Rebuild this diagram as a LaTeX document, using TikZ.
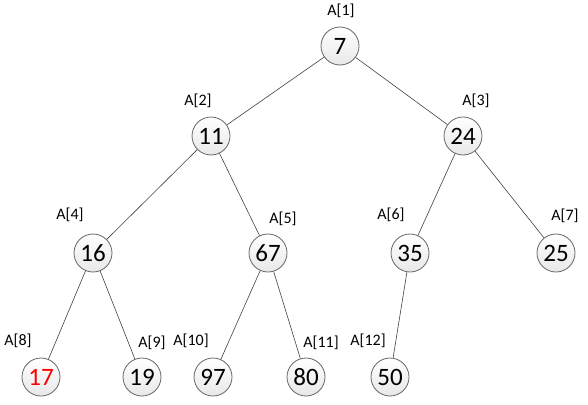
\documentclass[tikz,border=0pt]{standalone}
\usepackage{fontspec}
\setmainfont{Carlito}
\begin{document}
\begin{tikzpicture}[x=1pt,y=-1pt,
  heapnode/.style={circle,draw=black!60,line width=0.8pt,minimum size=38pt,inner sep=0pt,
    top color=white,bottom color=black!9,font=\fontsize{25}{25}\selectfont},
  idx/.style={font=\fontsize{16}{16}\selectfont,inner sep=0pt},
  edge/.style={draw=black!75,line width=0.6pt}]
\useasboundingbox (0,0) rectangle (588,404);
\node[heapnode] (n1) at (340,46) {7};
\node[heapnode] (n2) at (211,136) {11};
\node[heapnode] (n3) at (463,136) {24};
\node[heapnode] (n4) at (93,253) {16};
\node[heapnode] (n5) at (268,253) {67};
\node[heapnode] (n6) at (410,253) {35};
\node[heapnode] (n7) at (556,253) {25};
\node[heapnode,text=red] (n8) at (41,377) {17};
\node[heapnode] (n9) at (142,377) {19};
\node[heapnode] (n10) at (213,377) {97};
\node[heapnode] (n11) at (306,377) {80};
\node[heapnode] (n12) at (390,377) {50};
\node[idx] (l1) at (341,11) {A[1]};
\node[idx] (l2) at (198,101) {A[2]};
\node[idx] (l3) at (476,101) {A[3]};
\node[idx] (l4) at (70,215) {A[4]};
\node[idx] (l5) at (283,219) {A[5]};
\node[idx] (l6) at (391,215) {A[6]};
\node[idx] (l7) at (565,216) {A[7]};
\node[idx] (l8) at (18,341) {A[8]};
\node[idx] (l9) at (152,343) {A[9]};
\node[idx] (l10) at (191,341) {A[10]};
\node[idx] (l11) at (321,343) {A[11]};
\node[idx] (l12) at (368,341) {A[12]};
\draw[edge] (n1) -- (n2);
\draw[edge] (n1) -- (n3);
\draw[edge] (n2) -- (n4);
\draw[edge] (n2) -- (n5);
\draw[edge] (n3) -- (n6);
\draw[edge] (n3) -- (n7);
\draw[edge] (n4) -- (n8);
\draw[edge] (n4) -- (n9);
\draw[edge] (n5) -- (n10);
\draw[edge] (n5) -- (n11);
\draw[edge] (n6) -- (n12);
\end{tikzpicture}
\end{document}
